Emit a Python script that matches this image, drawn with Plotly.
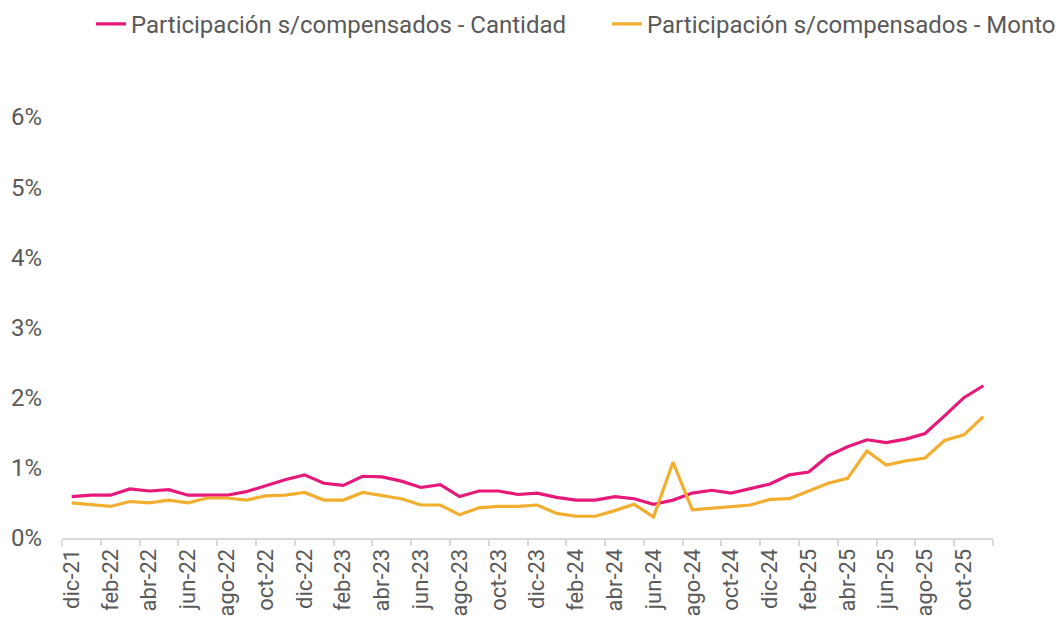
import plotly.graph_objects as go

months = ["dic-21",
          "ene-22", "feb-22", "mar-22", "abr-22", "may-22", "jun-22", "jul-22", "ago-22", "sep-22", "oct-22", "nov-22", "dic-22",
          "ene-23", "feb-23", "mar-23", "abr-23", "may-23", "jun-23", "jul-23", "ago-23", "sep-23", "oct-23", "nov-23", "dic-23",
          "ene-24", "feb-24", "mar-24", "abr-24", "may-24", "jun-24", "jul-24", "ago-24", "sep-24", "oct-24", "nov-24", "dic-24",
          "ene-25", "feb-25", "mar-25", "abr-25", "may-25", "jun-25", "jul-25", "ago-25", "sep-25", "oct-25", "nov-25"]

cantidad = [0.59,
            0.61, 0.61, 0.70, 0.67, 0.69, 0.61, 0.61, 0.61, 0.66, 0.75, 0.83, 0.90,
            0.78, 0.75, 0.88, 0.87, 0.81, 0.72, 0.76, 0.59, 0.67, 0.67, 0.62, 0.64,
            0.58, 0.54, 0.54, 0.59, 0.56, 0.48, 0.54, 0.64, 0.68, 0.64, 0.70, 0.77,
            0.90, 0.94, 1.17, 1.30, 1.40, 1.36, 1.41, 1.49, 1.74, 2.00, 2.17]

monto = [0.50,
         0.47, 0.45, 0.52, 0.50, 0.54, 0.50, 0.57, 0.57, 0.54, 0.60, 0.61, 0.65,
         0.54, 0.54, 0.65, 0.60, 0.56, 0.47, 0.47, 0.33, 0.43, 0.45, 0.45, 0.47,
         0.35, 0.31, 0.31, 0.39, 0.48, 0.30, 1.08, 0.40, 0.42, 0.45, 0.47, 0.55,
         0.56, 0.67, 0.78, 0.85, 1.24, 1.04, 1.10, 1.14, 1.39, 1.47, 1.73]

cantidad_frac = [v / 100 for v in cantidad]
monto_frac = [v / 100 for v in monto]

PINK = "#E6197A"
YELLOW = "#F1AE2F"
TXT = "#595959"
FONT = "Roboto"

fig = go.Figure()
fig.add_trace(go.Scatter(x=months, y=cantidad_frac, mode="lines",
                         name="Participación s/compensados - Cantidad",
                         line=dict(color=PINK, width=3.2), legend="legend"))
fig.add_trace(go.Scatter(x=months, y=monto_frac, mode="lines",
                         name="Participación s/compensados - Monto",
                         line=dict(color=YELLOW, width=3.2), legend="legend2"))

legend_common = dict(orientation="h", xref="container", yref="container",
                     xanchor="left", y=0.974, yanchor="middle",
                     font=dict(family=FONT, size=24, color=TXT),
                     bgcolor="rgba(0,0,0,0)")

fig.update_layout(
    width=1064, height=624,
    margin=dict(l=54, r=79, t=109, b=94),
    paper_bgcolor="white", plot_bgcolor="white",
    font=dict(family=FONT, color=TXT, size=24),
    showlegend=True,
    legend=dict(x=0.078, **legend_common),
    legend2=dict(x=0.563, **legend_common),
)

fig.update_xaxes(
    type="category", categoryorder="array", categoryarray=months,
    range=[-0.5, len(months) - 0.5],
    tickmode="linear", tick0=0, dtick=2,
    tickson="boundaries",
    ticks="outside", ticklen=6, tickcolor="#D9D9D9", tickwidth=2,
    showline=True, linecolor="#D9D9D9", linewidth=2,
    showgrid=False, zeroline=False,
    tickangle=-90, automargin=False,
    tickfont=dict(family=FONT, size=22, color=TXT),
)

fig.update_yaxes(
    range=[0, 0.06], dtick=0.01, tickformat=".0%",
    showgrid=False, zeroline=False, showline=False,
    ticks="outside", ticklen=14, tickcolor="rgba(0,0,0,0)",
    automargin=False,
    tickfont=dict(family=FONT, size=24, color=TXT),
)

fig.write_html("out.html")
